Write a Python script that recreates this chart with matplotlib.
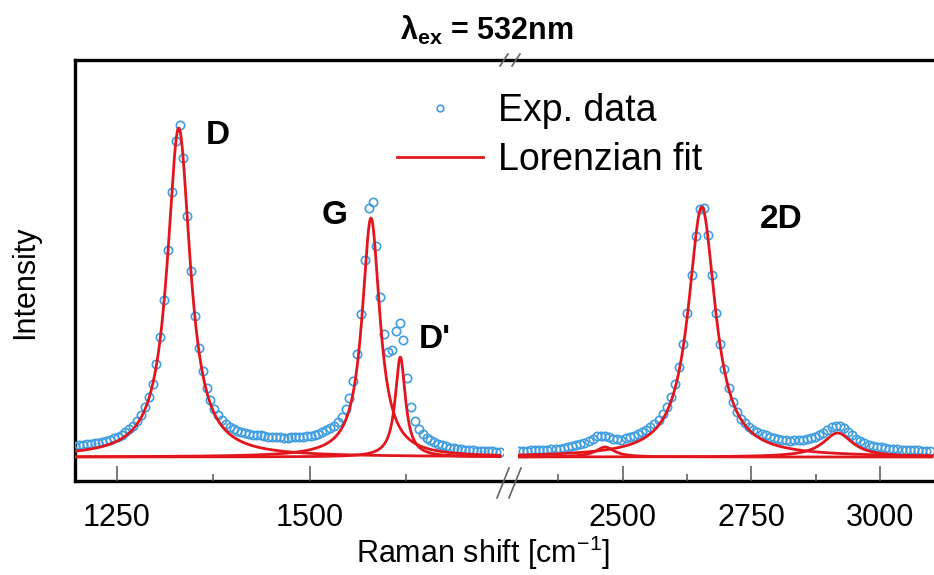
import numpy as np
import matplotlib
matplotlib.use('Agg')
import matplotlib.pyplot as plt

plt.rcParams['font.family'] = ['Liberation Sans', 'DejaVu Sans']
plt.rcParams['mathtext.fontset'] = 'custom'
plt.rcParams['mathtext.rm'] = 'Liberation Sans'
plt.rcParams['mathtext.it'] = 'Liberation Sans:italic'
plt.rcParams['mathtext.bf'] = 'Liberation Sans:bold'

x_low = np.arange(1196, 1750, 5)     # 1196 ... 1746 cm^-1
y_low = [11.3, 11.7, 12.2, 12.6, 13.0, 13.7, 14.4, 15.1, 16.0, 17.3,
         18.6, 20.2, 22.3, 24.8, 27.6, 31.5, 35.9, 41.6, 49.6, 59.8,
         73.5, 93, 120, 157, 207, 265, 316, 332, 299, 241,
         186, 141, 109, 86, 69.3, 57.3, 48.3, 41.6, 37.1, 33.2,
         30.3, 28.0, 26.2, 24.8, 23.7, 22.9, 22.4, 21.9, 21.7, 21.0,
         20.5, 20.2, 19.9, 19.7, 19.5, 19.5, 19.6, 19.7, 20.0, 20.3,
         20.9, 21.5, 22.4, 23.5, 24.9, 26.8, 28.6, 31.2, 34.9, 40.1,
         48.0, 59.4, 76.4, 103, 142.7, 197, 249, 254.7, 211, 160,
         123, 105.5, 106.8, 126, 134, 117, 79, 50, 36, 27.9,
         22.8, 19.2, 16.9, 14.7, 12.8, 11.7, 10.8, 9.5, 8.9, 8.4,
         7.9, 7.5, 7.1, 6.8, 6.5, 6.3, 6.1, 5.9, 5.7, 5.5, 5.4]

x_high = np.arange(2298, 3100, 8)    # 2298 ... 3098 cm^-1
y_high = [6.3, 6.4, 6.5, 6.6, 6.8, 7.0, 7.1, 7.3, 7.6, 7.9,
          8.0, 8.8, 9.7, 10.6, 11.7, 12.8, 14.3, 16.0, 18.2, 20.6,
          21.4, 21.1, 19.6, 18.0, 17.8, 17.4, 18.6, 19.7, 21.3, 22.7,
          24.6, 26.9, 29.8, 33.5, 37.1, 43.0, 49.6, 59.7, 73, 89.7,
          113.5, 143.8, 182, 221.4, 248.3, 248.8, 221.8, 182.4, 144.3, 113,
          88, 69.3, 55, 45, 38.4, 33.6, 30, 27.3, 25.4, 23.5,
          22, 20.5, 19.2, 18.2, 17.4, 16.8, 16.4, 16.7, 16.7, 17.0,
          17.6, 18.6, 20.0, 22.0, 24.1, 27.3, 30.0, 31.4, 31.2, 28.8,
          25.2, 21.6, 18.5, 16.0, 14.0, 12.5, 11.3, 10.4, 9.7, 9.0,
          8.5, 8.1, 7.8, 7.5, 7.2, 7.0, 6.8, 6.6, 6.4, 6.3, 6.2]

# Lorentzian fit parameters: centre, height, half width
low_centre = [1330, 1579, 1617]
low_height = [329, 239, 100]
low_gamma = [18, 14, 8]
high_centre = [2466, 2654, 2918]
high_height = [10, 250, 24]
high_gamma = [22, 32, 35]

peak_names = ['D', 'G', "D'", '2D']
peak_pos = [1381, 1532, 1662, 2808]
peak_h = [322, 242, 117, 237]


def lorentz(x, c, h, g):
    return h / (1. + ((x - c) / g) ** 2)


W, H = 934., 575.
fig = plt.figure(figsize=(9.34, 5.75), dpi=100)

bot = 94 / H
hgt = 421 / H
frame = fig.add_axes([75 / W, bot, 1.0, hgt])
frame.set_xticks([])
frame.set_yticks([])
frame.spines['right'].set_visible(False)
for s in ['left', 'top', 'bottom']:
    frame.spines[s].set_linewidth(2.4)
frame.patch.set_alpha(0)

ax1 = fig.add_axes([75 / W, bot, (503 - 75) / W, hgt])
ax2 = fig.add_axes([518 / W, bot, (934 - 518) / W, hgt])

red = '#e3161e'
blue = '#3f9de0'

panels = [(ax1, x_low, y_low, low_centre, low_height, low_gamma, (1195.6, 1750)),
          (ax2, x_high, y_high, high_centre, high_height, high_gamma, (2297, 3105))]
for ax, xd, yd, cs, hs, gs, xl in panels:
    ax.patch.set_alpha(0)
    xf = np.linspace(xl[0], xl[1] - 4, 900)
    dots, = ax.plot(xd, yd, 'o', ms=6, mfc='none', mec=blue, mew=1.2, zorder=2)
    for c, h, g in zip(cs, hs, gs):
        fitline, = ax.plot(xf, lorentz(xf, c, h, g), color=red, lw=2.0, zorder=3)
    ax.set_xlim(xl)
    ax.set_ylim(-24, 397)
    ax.set_yticks([])
    for s in ax.spines.values():
        s.set_visible(False)
    ax.tick_params(axis='x', which='major', direction='in', length=11, width=1.1,
                   color='#555555', pad=16, labelsize=22)
    ax.tick_params(axis='x', which='minor', direction='in', length=5, width=1.1,
                   color='#555555')

ax1.set_xticks([1250, 1500])
ax1.set_xticks([1375, 1625], minor=True)
ax2.set_xticks([2500, 2750, 3000])
ax2.set_xticks([2375, 2625, 2875], minor=True)

for name, xp, yp in zip(peak_names, peak_pos, peak_h):
    ax = ax1 if xp < 2000 else ax2
    ax.text(xp, yp, name, fontsize=24, fontweight='bold', ha='center', va='center')

fig.legend([dots, fitline], ['Exp. data', 'Lorenzian fit'], loc='upper left',
           bbox_to_anchor=(397 / W, 1 - 93 / H), frameon=False, fontsize=27,
           borderpad=0, borderaxespad=0, handlelength=2.3, handletextpad=0.4,
           labelspacing=0.35, numpoints=1, markerscale=0.8)

fig.text(487 / W, 1 - 30 / H, r'$\mathbf{\lambda_{ex}}$ = 532nm', fontsize=22,
         fontweight='bold', ha='center', va='center')
fig.text(483 / W, 1 - 553 / H, r'Raman shift [cm$^{-1}$]', fontsize=22,
         ha='center', va='center')
fig.text(25 / W, 1 - 282 / H, 'Intensity', fontsize=22, rotation=90,
         ha='center', va='center')

# axis break marks
for x0 in [500, 512]:
    fig.add_artist(plt.Line2D([x0 / W, (x0 + 8) / W], [1 - 66 / H, 1 - 54 / H],
                              color='#666666', lw=1.2))
    fig.add_artist(plt.Line2D([(x0 - 3) / W, (x0 + 9) / W], [1 - 498 / H, 1 - 468 / H],
                              color='#666666', lw=1.2))

plt.savefig('out.png', dpi=100)
